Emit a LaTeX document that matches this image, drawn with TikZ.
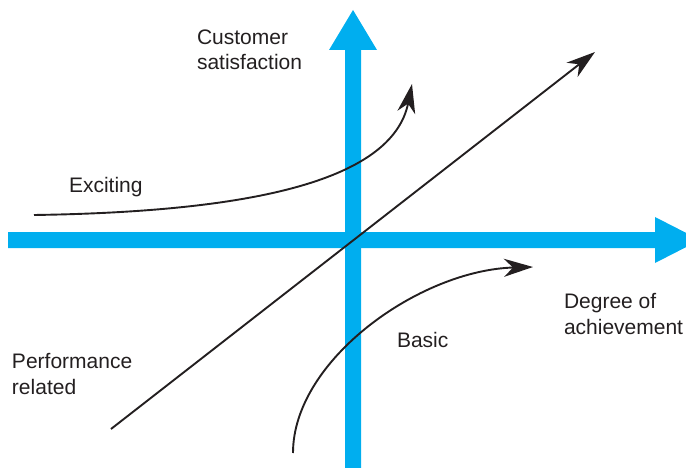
\documentclass[tikz,border=0pt]{standalone}
\usepackage{fontspec}
\setmainfont{Liberation Sans}
\usetikzlibrary{arrows.meta}
\definecolor{axisblue}{HTML}{00AEEF}
\definecolor{ink}{HTML}{231F20}
\tikzset{
  lbl/.style={anchor=base west, inner sep=0pt, outer sep=0pt, text=ink, align=left,
    font=\fontsize{21}{25.5}\selectfont},
  axisfill/.style={fill=axisblue, draw=none},
  curve/.style={draw=ink, line width=1.9pt, -{Stealth[length=29pt, width=18pt, inset=9pt]}},
}
\begin{document}
\begin{tikzpicture}[x=1pt, y=-1pt]
\path[use as bounding box] (0,0) rectangle (686,468);
\clip (0,0) rectangle (686,468);
% axes
\path[axisfill] (345,470) -- (345,50) -- (329,50) -- (353,10) -- (377,50) -- (361,50) -- (361,470) -- cycle;
\path[axisfill] (8,232) -- (655,232) -- (655,217) -- (700,240) -- (655,263) -- (655,248) -- (8,248) -- cycle;
% labels (base anchor = baseline of the last line)
\node[lbl] (cs) at (197,70) {Customer\\satisfaction};
\node[lbl] (ex) at (69,193) {Exciting};
\node[lbl] (pr) at (12,394) {Performance\\related};
\node[lbl] (ba) at (397,347) {Basic};
\node[lbl] (da) at (564,334) {Degree of\\achievement};
% curve endpoints
\coordinate (exS) at (34,215);
\coordinate (exE) at (412,84);
\coordinate (prS) at (111,429);
\coordinate (prE) at (595,52);
\coordinate (baS) at (293,453);
\coordinate (baE) at (533,267);
% curves
\draw[curve] (exS) .. controls (240,212) and (392,184) .. (exE);
\draw[curve] (prS) -- (prE);
\draw[curve] (baS) .. controls (293,360) and (420,270) .. (baE);
\end{tikzpicture}
\end{document}
